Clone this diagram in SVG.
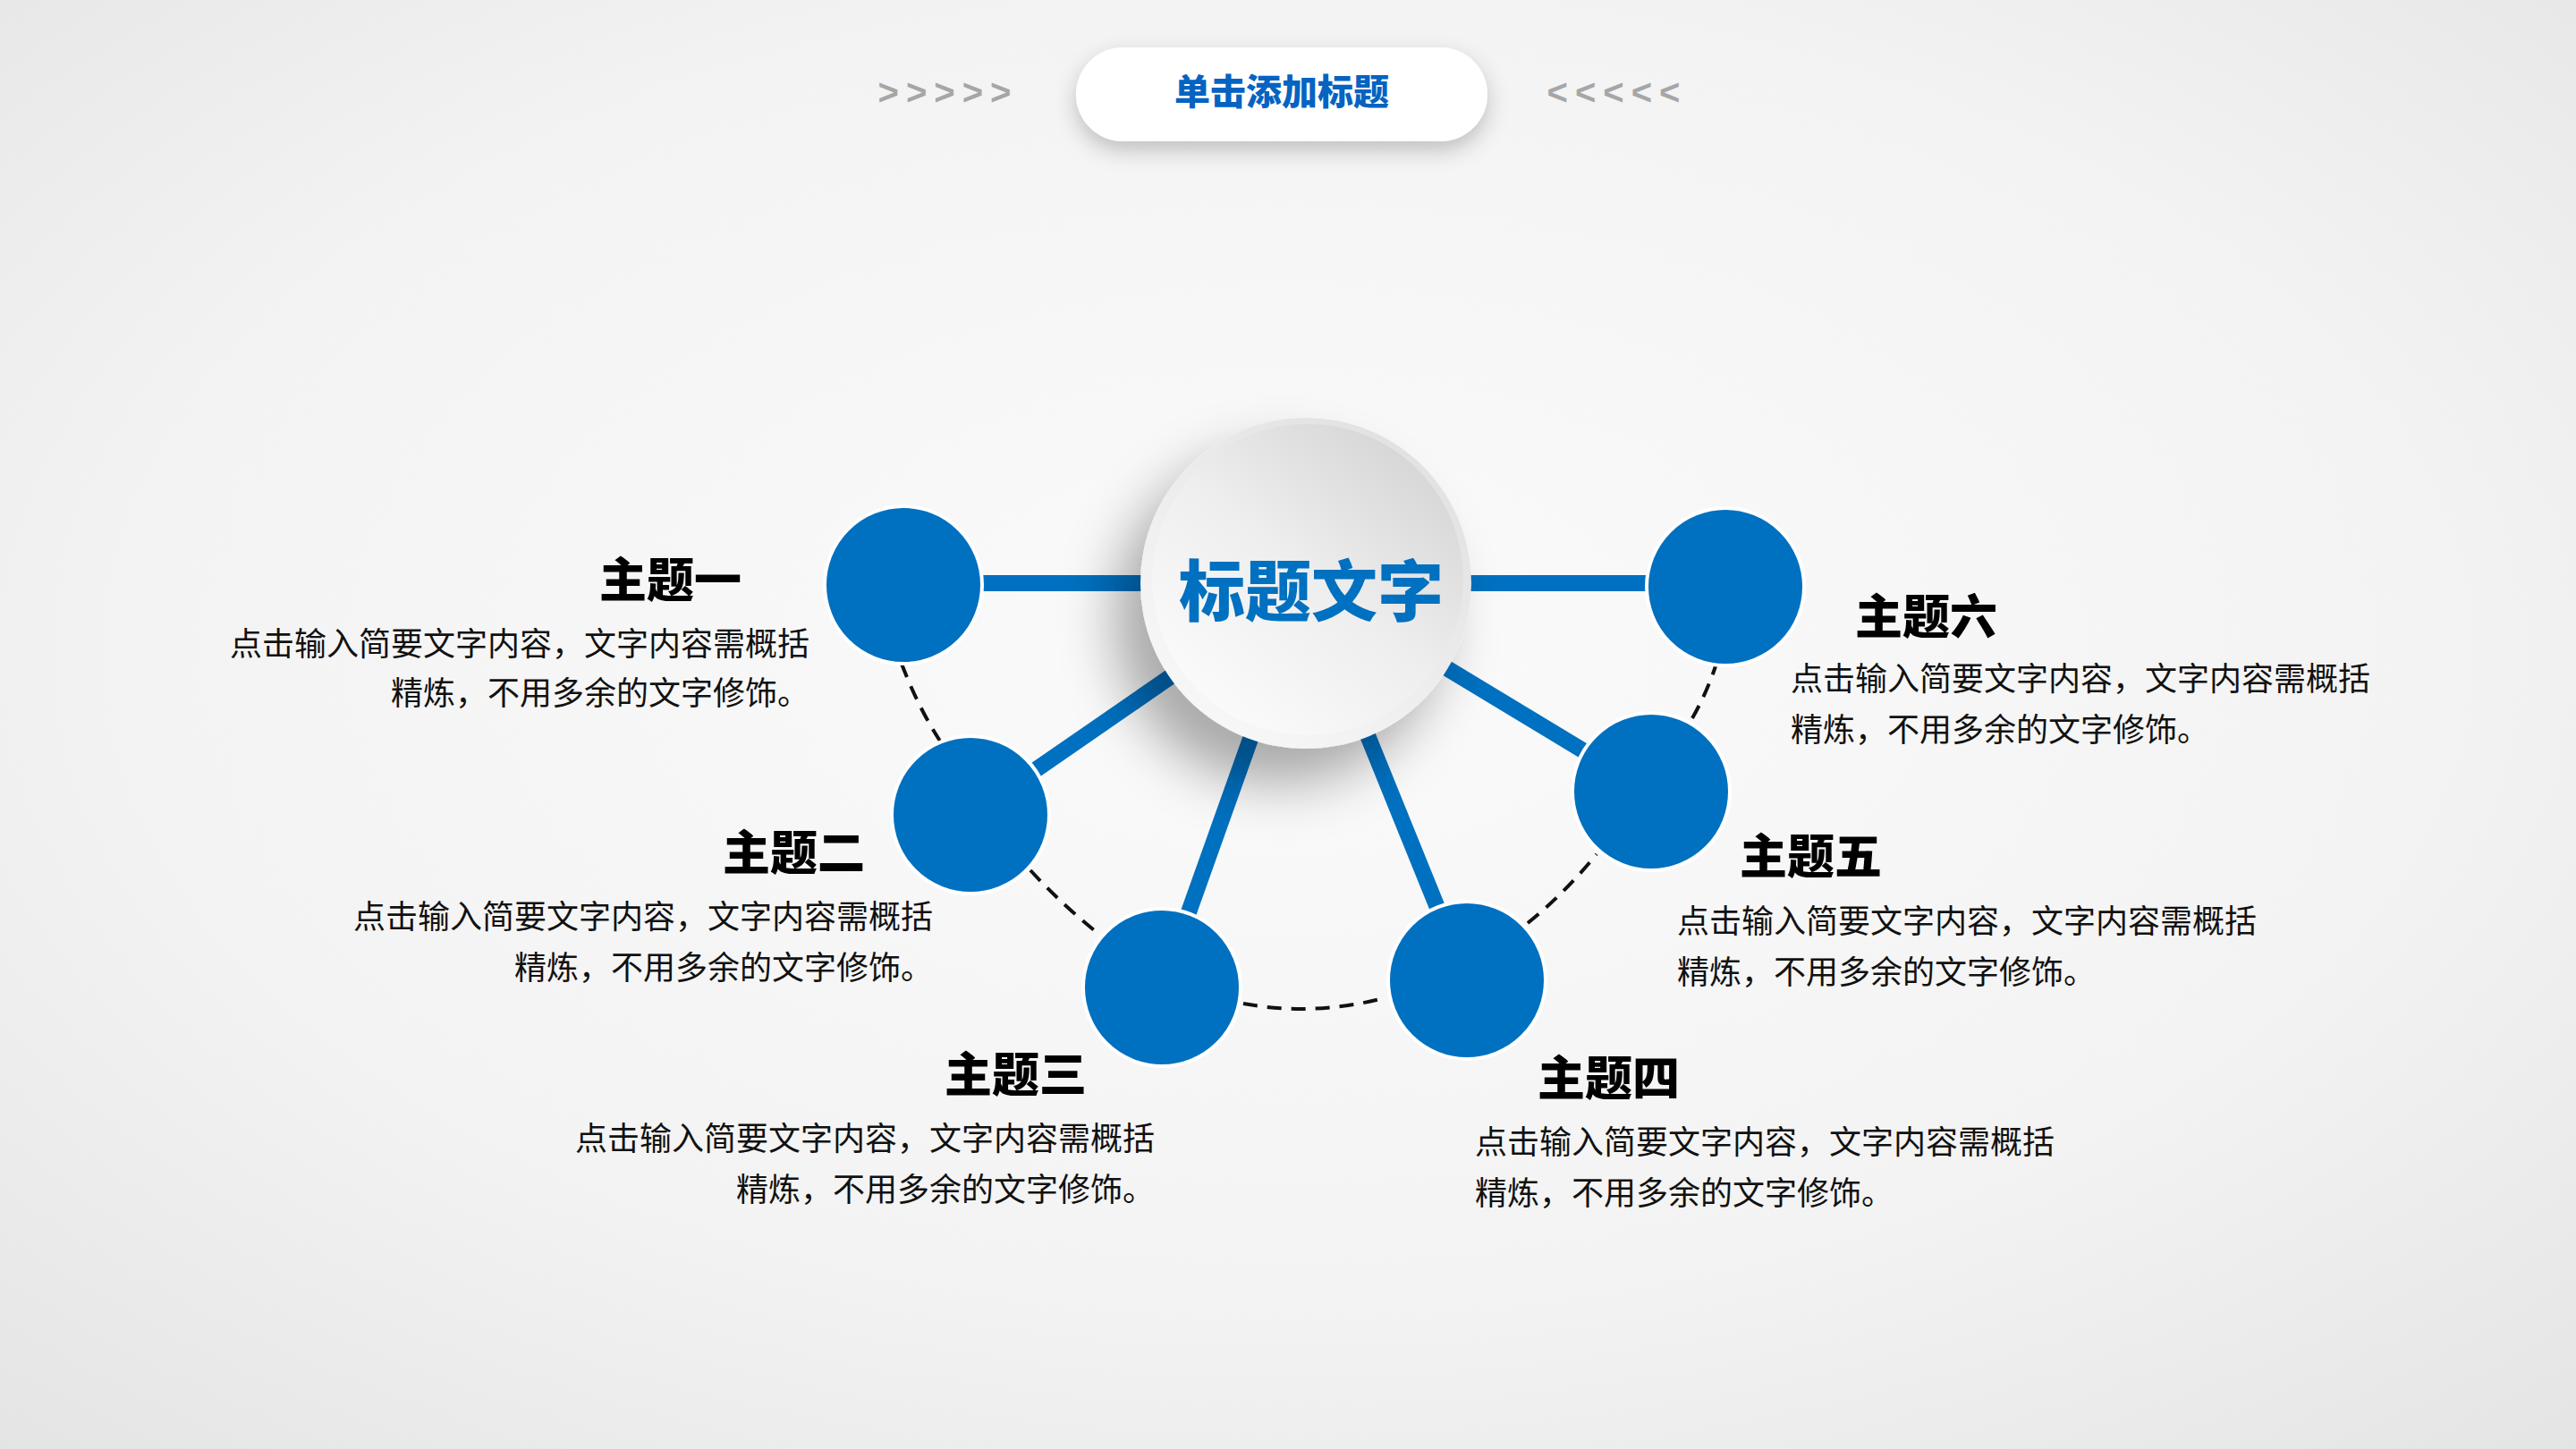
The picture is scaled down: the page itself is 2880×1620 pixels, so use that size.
<svg xmlns="http://www.w3.org/2000/svg" width="2880" height="1620" viewBox="0 0 2880 1620">
<defs>
<radialGradient id="bg" cx="50%" cy="45%" r="75%">
<stop offset="0" stop-color="#fbfbfb"/>
<stop offset="0.6" stop-color="#f3f3f3"/>
<stop offset="1" stop-color="#e4e4e4"/>
</radialGradient>
<linearGradient id="face" x1="0.85" y1="0.1" x2="0.2" y2="0.9">
<stop offset="0" stop-color="#d6d6d6"/>
<stop offset="0.5" stop-color="#eeeeee"/>
<stop offset="1" stop-color="#fafafa"/>
</linearGradient>
<linearGradient id="rim" x1="0.8" y1="0.1" x2="0.2" y2="0.9">
<stop offset="0" stop-color="#e2e2e2"/>
<stop offset="1" stop-color="#f7f7f7"/>
</linearGradient>
<filter id="csh" x="-50%" y="-50%" width="200%" height="200%">
<feDropShadow dx="-30" dy="40" stdDeviation="30" flood-color="#000" flood-opacity="0.32"/>
</filter>
<filter id="psh" x="-30%" y="-60%" width="160%" height="240%">
<feDropShadow dx="0" dy="10" stdDeviation="12" flood-color="#000" flood-opacity="0.22"/>
</filter>
<style>
.sat{fill:#0070c0;stroke:#ffffff;stroke-width:4}
.spoke{stroke:#0070c0;stroke-width:18;fill:none}
.dash{stroke:#111;stroke-width:4;fill:none;stroke-dasharray:16 11}
.tt{font-family:"Noto Sans CJK SC","Noto Sans",sans-serif;font-weight:900;font-size:53px;fill:#000}
.ds{font-family:"Noto Sans CJK SC","Noto Sans",sans-serif;font-size:36px;fill:#111}
.arr{font-family:"Liberation Sans",sans-serif;font-size:40px;font-weight:bold;fill:#a6a6a6;letter-spacing:8px}
</style>
</defs>
<rect width="2880" height="1620" fill="url(#bg)"/>

<g id="header">
<rect x="1203" y="53" width="460" height="105" rx="52.5" fill="#ffffff" filter="url(#psh)"/>
<text x="1433" y="117" text-anchor="middle" font-family="'Noto Sans CJK SC',sans-serif" font-weight="900" font-size="40" fill="#0563c1">单击添加标题</text>
<text class="arr" x="1060" y="117" text-anchor="middle">&gt;&gt;&gt;&gt;&gt;</text>
<text class="arr" x="1808" y="117" text-anchor="middle">&lt;&lt;&lt;&lt;&lt;</text>
</g>

<g id="connectors">
<line class="spoke" x1="1010" y1="652" x2="1460" y2="652"/>
<line class="spoke" x1="1929" y1="652" x2="1460" y2="652"/>
<line class="spoke" x1="1085" y1="911" x2="1460" y2="652"/>
<line class="spoke" x1="1846" y1="885" x2="1460" y2="652"/>
<line class="spoke" x1="1299" y1="1104" x2="1460" y2="652"/>
<line class="spoke" x1="1640" y1="1096" x2="1460" y2="652"/>
<path class="dash" d="M1008,742 Q1026,790 1052,830"/>
<path class="dash" d="M1152,973 Q1188,1012 1227,1043"/>
<path class="dash" d="M1390,1122 Q1466,1136 1543,1117"/>
<path class="dash" d="M1708,1032 Q1750,998 1785,955"/>
<path class="dash" d="M1892,803 Q1908,775 1919,742"/>
</g>

<g id="center">
<circle cx="1460" cy="652" r="185" fill="url(#rim)" filter="url(#csh)"/>
<circle cx="1462" cy="648" r="174" fill="url(#face)"/>
<text x="1466" y="688" text-anchor="middle" font-family="'Noto Sans CJK SC',sans-serif" font-weight="900" font-size="74" fill="#0070c0">标题文字</text>
</g>

<g id="topic1">
<circle class="sat" cx="1010" cy="654" r="88"/>
<text class="tt" x="670" y="668">主题一</text>
<text class="ds" x="905" y="733" text-anchor="end">点击输入简要文字内容，文字内容需概括</text>
<text class="ds" x="905" y="788" text-anchor="end">精炼，不用多余的文字修饰。</text>
</g>
<g id="topic2">
<circle class="sat" cx="1085" cy="911" r="88"/>
<text class="tt" x="808" y="973">主题二</text>
<text class="ds" x="1043" y="1038" text-anchor="end">点击输入简要文字内容，文字内容需概括</text>
<text class="ds" x="1043" y="1095" text-anchor="end">精炼，不用多余的文字修饰。</text>
</g>
<g id="topic3">
<circle class="sat" cx="1299" cy="1104" r="88"/>
<text class="tt" x="1056" y="1221">主题三</text>
<text class="ds" x="1291" y="1286" text-anchor="end">点击输入简要文字内容，文字内容需概括</text>
<text class="ds" x="1291" y="1343" text-anchor="end">精炼，不用多余的文字修饰。</text>
</g>
<g id="topic4">
<circle class="sat" cx="1640" cy="1096" r="88"/>
<text class="tt" x="1719" y="1225">主题四</text>
<text class="ds" x="1649" y="1290">点击输入简要文字内容，文字内容需概括</text>
<text class="ds" x="1649" y="1347">精炼，不用多余的文字修饰。</text>
</g>
<g id="topic5">
<circle class="sat" cx="1846" cy="885" r="88"/>
<text class="tt" x="1945" y="977">主题五</text>
<text class="ds" x="1875" y="1043">点击输入简要文字内容，文字内容需概括</text>
<text class="ds" x="1875" y="1100">精炼，不用多余的文字修饰。</text>
</g>
<g id="topic6">
<circle class="sat" cx="1929" cy="656" r="88"/>
<text class="tt" x="2074" y="709">主题六</text>
<text class="ds" x="2002" y="772">点击输入简要文字内容，文字内容需概括</text>
<text class="ds" x="2002" y="829">精炼，不用多余的文字修饰。</text>
</g>
</svg>
